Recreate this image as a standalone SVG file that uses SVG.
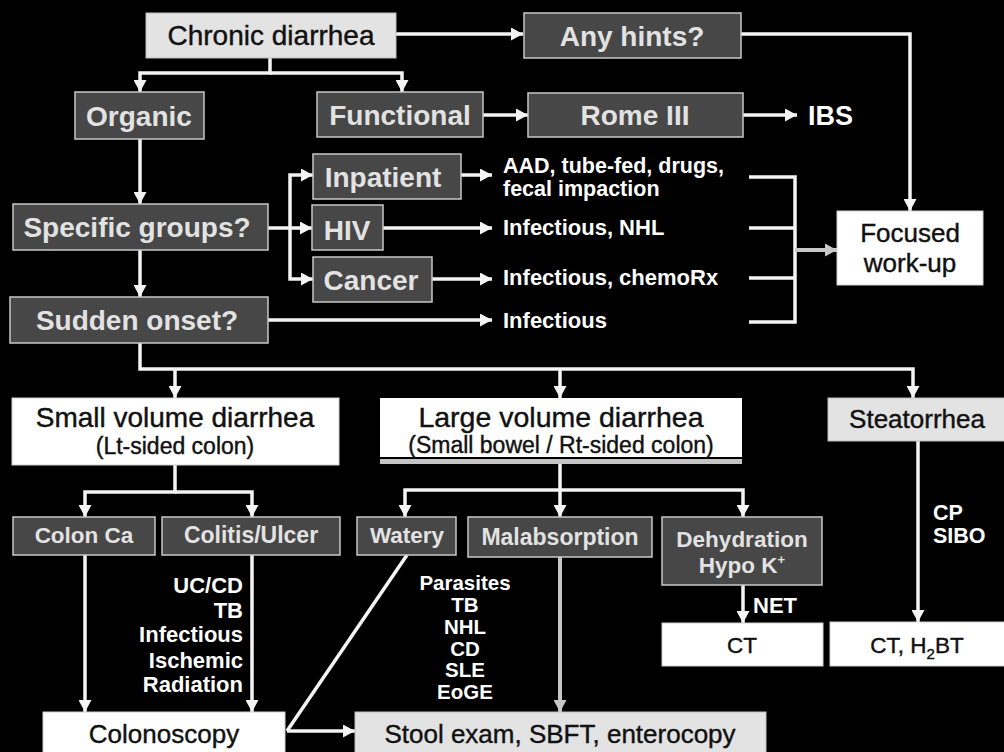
<svg xmlns="http://www.w3.org/2000/svg" width="1004" height="752" viewBox="0 0 1004 752">
<style>
.dk{fill:#474747;stroke:#c8c8c8;stroke-width:1.5}
.lt{fill:#e3e3e3;stroke:#bdbdbd;stroke-width:1}
.wt{fill:#ffffff;stroke:#d0d0d0;stroke-width:1}
.dt{font-family:"Liberation Sans",Arial,sans-serif;font-weight:bold;fill:#e2e2e2;text-anchor:middle}
.bt{font-family:"Liberation Sans",Arial,sans-serif;fill:#111;stroke:#111;stroke-width:0.4;text-anchor:middle}
.wtx{font-family:"Liberation Sans",Arial,sans-serif;font-weight:bold;fill:#fff}
.c{fill:none;stroke:#f4f4f4;stroke-width:3.5}
.g{fill:none;stroke:#c8c8c8;stroke-width:4}
</style>
<defs>
<marker id="ah" markerUnits="userSpaceOnUse" markerWidth="13" markerHeight="13" refX="12" refY="6.5" orient="auto">
<path d="M0,0 L12,6.5 L0,13 z" fill="#f4f4f4"/>
</marker>
<marker id="ahg" markerUnits="userSpaceOnUse" markerWidth="13" markerHeight="13" refX="12" refY="6.5" orient="auto">
<path d="M0,0 L12,6.5 L0,13 z" fill="#c8c8c8"/>
</marker>
</defs>
<rect width="1004" height="752" fill="#000"/>

<g id="connectors">
<path class="c" d="M396,34 H523" marker-end="url(#ah)"/>
<path class="c" d="M741,34 H910 V211" marker-end="url(#ah)"/>
<path class="c" d="M270,58 V73 H140 V92" marker-end="url(#ah)"/>
<path class="c" d="M270,73 H402 V92" marker-end="url(#ah)"/>
<path class="c" d="M483,115 H528" marker-end="url(#ah)"/>
<path class="c" d="M743,115 H797" marker-end="url(#ah)"/>
<path class="c" d="M140,139 V204" marker-end="url(#ah)"/>
<path class="c" d="M268,228 H312" marker-end="url(#ah)"/>
<path class="c" d="M290,228 V175 H313" marker-end="url(#ah)"/>
<path class="c" d="M290,228 V279 H313" marker-end="url(#ah)"/>
<path class="c" d="M461,175 H492" marker-end="url(#ah)"/>
<path class="c" d="M383,228 H492" marker-end="url(#ah)"/>
<path class="c" d="M432,279 H492" marker-end="url(#ah)"/>
<path class="c" d="M268,320 H492" marker-end="url(#ah)"/>
<path class="c" d="M749,177 H795 V322 H749"/>
<path class="c" d="M749,228 H795"/>
<path class="c" d="M749,278 H795"/>
<path class="g" d="M795,250 H837" marker-end="url(#ahg)"/>
<path class="c" d="M140,250 V297" marker-end="url(#ah)"/>
<path class="c" d="M140,343 V369 H913 V398" marker-end="url(#ah)"/>
<path class="c" d="M175,369 V398" marker-end="url(#ah)"/>
<path class="c" d="M560,369 V398" marker-end="url(#ah)"/>
<path class="c" d="M175,465 V492 H85 V517" marker-end="url(#ah)"/>
<path class="c" d="M175,492 H252 V517" marker-end="url(#ah)"/>
<path class="c" d="M560,464 V490 H405 V517" marker-end="url(#ah)"/>
<path class="c" d="M560,490 H743 V517" marker-end="url(#ah)"/>
<path class="c" d="M560,490 V517" marker-end="url(#ah)"/>
<path class="c" d="M85,555 V712" marker-end="url(#ah)"/>
<path class="c" d="M252,555 V712" marker-end="url(#ah)"/>
<path class="c" d="M407,555 L287,731"/>
<path class="c" d="M287,731 H355" marker-end="url(#ah)"/>
<path class="g" d="M560,557 V712" marker-end="url(#ahg)"/>
<path class="c" d="M743,585 V623" marker-end="url(#ah)"/>
<path class="c" d="M918,441 V622" marker-end="url(#ah)"/>
</g>

<g id="chronic"><rect class="lt" x="146" y="13" width="250" height="45"/><text class="bt" x="271" y="45" font-size="28">Chronic diarrhea</text></g>
<g id="hints"><rect class="dk" x="524" y="13" width="217" height="45"/><text class="dt" x="632" y="46" font-size="28">Any hints?</text></g>
<g id="organic"><rect class="dk" x="75" y="92" width="129" height="47"/><text class="dt" x="139" y="126" font-size="28">Organic</text></g>
<g id="functional"><rect class="dk" x="317" y="92" width="166" height="45"/><text class="dt" x="400" y="125" font-size="28">Functional</text></g>
<g id="rome"><rect class="dk" x="528" y="93" width="215" height="44"/><text class="dt" x="635" y="125" font-size="28">Rome III</text></g>
<g id="ibs"><text class="wtx" x="808" y="125" font-size="27">IBS</text></g>
<g id="specific"><rect class="dk" x="13" y="204" width="255" height="46"/><text class="dt" x="137" y="237" font-size="28">Specific groups?</text></g>
<g id="inpatient"><rect class="dk" x="313" y="154" width="148" height="45"/><text class="dt" x="383" y="187" font-size="28">Inpatient</text></g>
<g id="hiv"><rect class="dk" x="312" y="205" width="71" height="45"/><text class="dt" x="347" y="240" font-size="28">HIV</text></g>
<g id="cancer"><rect class="dk" x="313" y="257" width="119" height="45"/><text class="dt" x="371" y="290" font-size="28">Cancer</text></g>
<g id="sudden"><rect class="dk" x="10" y="297" width="258" height="46"/><text class="dt" x="137" y="330" font-size="28">Sudden onset?</text></g>
<g id="results">
<text class="wtx" x="503" y="173" font-size="21.5">AAD, tube-fed, drugs,</text>
<text class="wtx" x="503" y="196" font-size="21.5">fecal impaction</text>
<text class="wtx" x="503" y="235" font-size="22">Infectious, NHL</text>
<text class="wtx" x="503" y="285" font-size="22">Infectious, chemoRx</text>
<text class="wtx" x="503" y="328" font-size="22">Infectious</text>
</g>
<g id="focused"><rect class="wt" x="837" y="211" width="146" height="74"/><text class="bt" x="910" y="242" font-size="26">Focused</text><text class="bt" x="910" y="272" font-size="26">work-up</text></g>
<g id="small"><rect class="wt" x="12" y="398" width="327" height="67"/><text class="bt" x="175" y="427" font-size="28">Small volume diarrhea</text><text class="bt" x="175" y="454" font-size="23">(Lt-sided colon)</text></g>
<g id="large"><rect x="380" y="398" width="362" height="59" fill="#fff"/><rect x="380" y="459" width="362" height="5" fill="#c4c4c4"/><text class="bt" x="561" y="427" font-size="28.5">Large volume diarrhea</text><text class="bt" x="561" y="453" font-size="23">(Small bowel / Rt-sided colon)</text></g>
<g id="steatorrhea"><rect class="lt" x="828" y="398" width="180" height="43"/><text class="bt" x="917" y="428" font-size="26">Steatorrhea</text></g>
<g id="colonca"><rect class="dk" x="13" y="517" width="142" height="38"/><text class="dt" x="84" y="543" font-size="22.5">Colon Ca</text></g>
<g id="colitis"><rect class="dk" x="162" y="517" width="178" height="38"/><text class="dt" x="251" y="543" font-size="23">Colitis/Ulcer</text></g>
<g id="watery"><rect class="dk" x="357" y="517" width="99" height="38"/><text class="dt" x="407" y="543" font-size="22.5">Watery</text></g>
<g id="malabsorption"><rect class="dk" x="468" y="517" width="184" height="40"/><text class="dt" x="560" y="545" font-size="23">Malabsorption</text></g>
<g id="dehydration"><rect class="dk" x="662" y="517" width="160" height="68"/><text class="dt" x="742" y="547" font-size="22.5">Dehydration</text><text class="dt" x="742" y="573" font-size="22.5">Hypo K<tspan font-size="13" dy="-9">+</tspan></text></g>
<g id="colitis-causes">
<text class="wtx" x="243" y="593" font-size="22" text-anchor="end">UC/CD</text>
<text class="wtx" x="243" y="618" font-size="22" text-anchor="end">TB</text>
<text class="wtx" x="243" y="642" font-size="22" text-anchor="end">Infectious</text>
<text class="wtx" x="243" y="668" font-size="22" text-anchor="end">Ischemic</text>
<text class="wtx" x="243" y="692" font-size="22" text-anchor="end">Radiation</text>
</g>
<g id="malabs-causes">
<text class="wtx" x="465" y="590" font-size="20.5" text-anchor="middle">Parasites</text>
<text class="wtx" x="465" y="612" font-size="20.5" text-anchor="middle">TB</text>
<text class="wtx" x="465" y="634" font-size="20.5" text-anchor="middle">NHL</text>
<text class="wtx" x="465" y="656" font-size="20.5" text-anchor="middle">CD</text>
<text class="wtx" x="465" y="677" font-size="20.5" text-anchor="middle">SLE</text>
<text class="wtx" x="465" y="699" font-size="20.5" text-anchor="middle">EoGE</text>
</g>
<g id="steat-causes"><text class="wtx" x="933" y="520" font-size="21.5">CP</text><text class="wtx" x="933" y="543" font-size="21.5">SIBO</text></g>
<g id="net"><text class="wtx" x="753" y="613" font-size="22">NET</text></g>
<g id="ct"><rect class="wt" x="662" y="623" width="161" height="43"/><text class="bt" x="742" y="653" font-size="22.5">CT</text></g>
<g id="cth2bt"><rect class="wt" x="830" y="622" width="178" height="44"/><text class="bt" x="917" y="653" font-size="22.5">CT, H<tspan font-size="15" dy="6">2</tspan><tspan dy="-6">BT</tspan></text></g>
<g id="colonoscopy"><rect class="wt" x="43" y="712" width="242" height="45"/><text class="bt" x="164" y="743" font-size="26">Colonoscopy</text></g>
<g id="stool"><rect class="lt" x="355" y="712" width="411" height="45"/><text class="bt" x="560" y="743" font-size="26">Stool exam, SBFT, enterocopy</text></g>
</svg>
